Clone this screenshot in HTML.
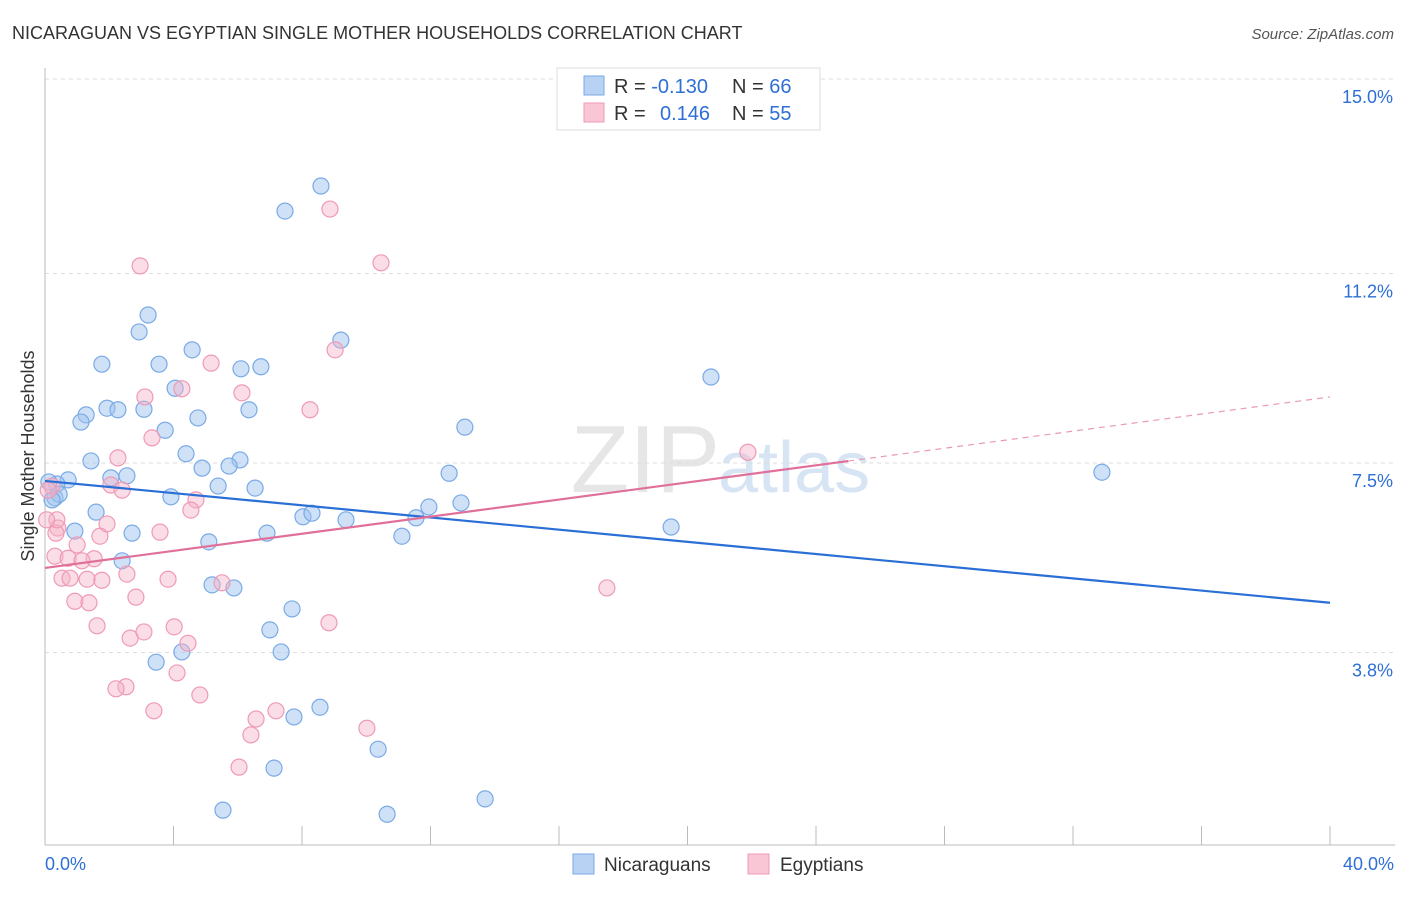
<!DOCTYPE html>
<html><head><meta charset="utf-8"><style>
body{margin:0;background:#fff;font-family:"Liberation Sans",sans-serif;}
svg text{font-family:"Liberation Sans",sans-serif;}
</style></head><body>
<svg id="chart" width="1406" height="892" xmlns="http://www.w3.org/2000/svg">
<text x="12" y="39" font-size="18" fill="#333">NICARAGUAN VS EGYPTIAN SINGLE MOTHER HOUSEHOLDS CORRELATION CHART</text>
<text x="1394" y="39" font-size="15" fill="#555" font-style="italic" text-anchor="end">Source: ZipAtlas.com</text>
<text x="720" y="492" font-size="96" fill="#e6e6e6" font-family="Liberation Serif" text-anchor="end">ZIP</text>
<text x="718" y="492" font-size="72" fill="#d6e4f4">atlas</text>
<g id="grid"></g><g id="axes"></g><g id="points"></g><g id="lines"></g>
<g>
<rect x="557" y="68" width="263" height="62" fill="#fff" stroke="#ddd"/>
<rect x="584" y="76" width="20" height="19" fill="#b8d2f4" stroke="#7aaae6"/>
<rect x="584" y="103" width="20" height="19" fill="#f9c6d6" stroke="#ef9ab5"/>
<text x="614" y="93" font-size="20" fill="#333">R = <tspan fill="#2e6fd6">-0.130</tspan></text>
<text x="732" y="93" font-size="20" fill="#333">N = <tspan fill="#2e6fd6">66</tspan></text>
<text x="614" y="120" font-size="20" fill="#333">R = <tspan fill="#2e6fd6" x="660">0.146</tspan></text>
<text x="732" y="120" font-size="20" fill="#333">N = <tspan fill="#2e6fd6">55</tspan></text>
</g>
<g>
<rect x="573" y="854" width="21" height="20" fill="#b8d2f4" stroke="#7aaae6"/>
<text x="604" y="871" font-size="19" fill="#333">Nicaraguans</text>
<rect x="748" y="854" width="21" height="20" fill="#f9c6d6" stroke="#ef9ab5"/>
<text x="780" y="871" font-size="19" fill="#333">Egyptians</text>
</g>
<text x="34" y="456" font-size="18" fill="#333" text-anchor="middle" transform="rotate(-90 34 456)">Single Mother Households</text>
</svg>
<script>
const yTicks=[15.0,11.2,7.5,3.8];
const yTickLabels=["15.0%","11.2%","7.5%","3.8%"];
const xTickLabels=["0.0%","40.0%"];
const nicX=[8.59,7.47,3.21,2.93,9.21,1.77,3.55,4.58,6.10,6.72,20.73,4.05,1.93,2.27,3.08,6.35,1.28,1.12,4.76,3.74,13.07,1.43,4.39,6.07,5.73,4.89,12.58,32.90,0.72,2.05,2.55,0.37,0.12,5.39,6.54,3.92,0.31,0.44,0.22,1.59,12.95,11.95,8.03,8.31,9.37,11.55,0.93,2.71,6.91,19.49,5.10,11.11,2.40,5.20,5.88,7.69,7.00,4.26,7.35,3.46,8.56,7.75,10.37,7.13,13.70,5.54,10.65];
const nicY=[12.91,12.42,10.39,10.06,9.90,9.43,9.43,9.71,9.34,9.38,9.18,8.96,8.57,8.54,8.55,8.54,8.44,8.30,8.38,8.14,8.20,7.54,7.68,7.56,7.44,7.40,7.30,7.32,7.17,7.21,7.25,7.09,7.13,7.05,7.01,6.84,6.82,6.89,6.78,6.54,6.72,6.64,6.45,6.52,6.39,6.43,6.17,6.13,6.13,6.25,5.96,6.07,5.59,5.12,5.06,4.65,4.24,3.81,3.81,3.61,2.73,2.54,1.91,1.54,0.94,0.72,0.64];
const egyX=[8.87,2.96,10.46,9.03,5.17,4.26,3.11,6.13,8.25,3.33,21.88,2.27,2.05,2.40,4.70,4.54,0.22,0.10,0.40,0.34,1.93,1.71,3.58,1.00,0.31,0.72,1.53,1.15,2.55,0.53,0.78,1.31,1.77,3.83,5.51,17.49,2.83,0.93,1.37,1.62,4.02,8.84,2.65,3.08,4.45,4.11,2.52,2.21,4.82,3.39,6.57,7.19,10.02,6.41,6.04,0.37,0.05];
const egyY=[12.46,11.35,11.41,9.71,9.45,8.95,8.79,8.87,8.54,7.99,7.71,7.60,7.07,6.97,6.78,6.58,7.05,6.97,6.23,6.13,6.31,6.07,6.15,5.90,5.68,5.64,5.63,5.59,5.33,5.25,5.25,5.23,5.21,5.23,5.16,5.06,4.88,4.80,4.77,4.32,4.30,4.38,4.08,4.20,3.98,3.40,3.13,3.09,2.97,2.66,2.50,2.66,2.32,2.19,1.56,6.39,6.39];
const nicTrend=[7.15,4.77];
const egyTrend=[5.45,8.79];
const egySolidEnd=25;
const NS="http://www.w3.org/2000/svg";
function sx(v){return 45+v/40*1285;}
function sy(v){return 847-v*51.2;}
function mk(tag,attrs,parent){const e=document.createElementNS(NS,tag);for(const k in attrs)e.setAttribute(k,attrs[k]);document.getElementById(parent).appendChild(e);return e;}
yTicks.forEach((t,i)=>{
 const l=mk('line',{x1:45,x2:1395,y1:sy(t),y2:sy(t),stroke:'#ddd','stroke-dasharray':'4,4'},'grid');
 
 
 const tx=mk('text',{x:1393,y:sy(t)+24,'font-size':18,fill:'#2e6fd6','text-anchor':'end'},'grid');
 tx.textContent=yTickLabels[i];
 
 
});
const ax=mk('line',{x1:45,x2:45,y1:68,y2:845,stroke:'#bbb'},'axes');


const bx=mk('line',{x1:45,x2:1395,y1:845,y2:845,stroke:'#bbb'},'axes');


for(let i=0;i<=10;i++){
 const t=mk('line',{x1:sx(i*4),x2:sx(i*4),y1:826,y2:845,stroke:'#bbb'},'axes');
 
 
}
[[0,'start',45],[40,'end',1394]].forEach((d,i)=>{
 const t=mk('text',{x:d[2],y:870,'font-size':18,fill:'#2e6fd6','text-anchor':d[1]},'axes');
 t.textContent=xTickLabels[i];
 
 
});
nicX.forEach((x,i)=>{
 const c=mk('circle',{cx:sx(x),cy:sy(nicY[i]),r:8,fill:'rgba(160,196,240,0.5)',stroke:'#7aaae6','stroke-width':1.2},'points');
 
 
});
egyX.forEach((x,i)=>{
 const c=mk('circle',{cx:sx(x),cy:sy(egyY[i]),r:8,fill:'rgba(245,180,200,0.45)',stroke:'#ef9ab5','stroke-width':1.2},'points');
 
 
});
const bl=mk('line',{x1:sx(0),y1:sy(nicTrend[0]),x2:sx(40),y2:sy(nicTrend[1]),stroke:'#2a6fd6','stroke-width':2.2},'lines');


const ey=x=>egyTrend[0]+(egyTrend[1]-egyTrend[0])*x/40;
const pl=mk('line',{x1:sx(0),y1:sy(ey(0)),x2:sx(egySolidEnd),y2:sy(ey(egySolidEnd)),stroke:'#e0709a','stroke-width':2.2},'lines');


const pd=mk('line',{x1:sx(egySolidEnd),y1:sy(ey(egySolidEnd)),x2:sx(40),y2:sy(ey(40)),stroke:'#e89ab5','stroke-width':1.2,'stroke-dasharray':'6,5'},'lines');


</script>
</body></html>
